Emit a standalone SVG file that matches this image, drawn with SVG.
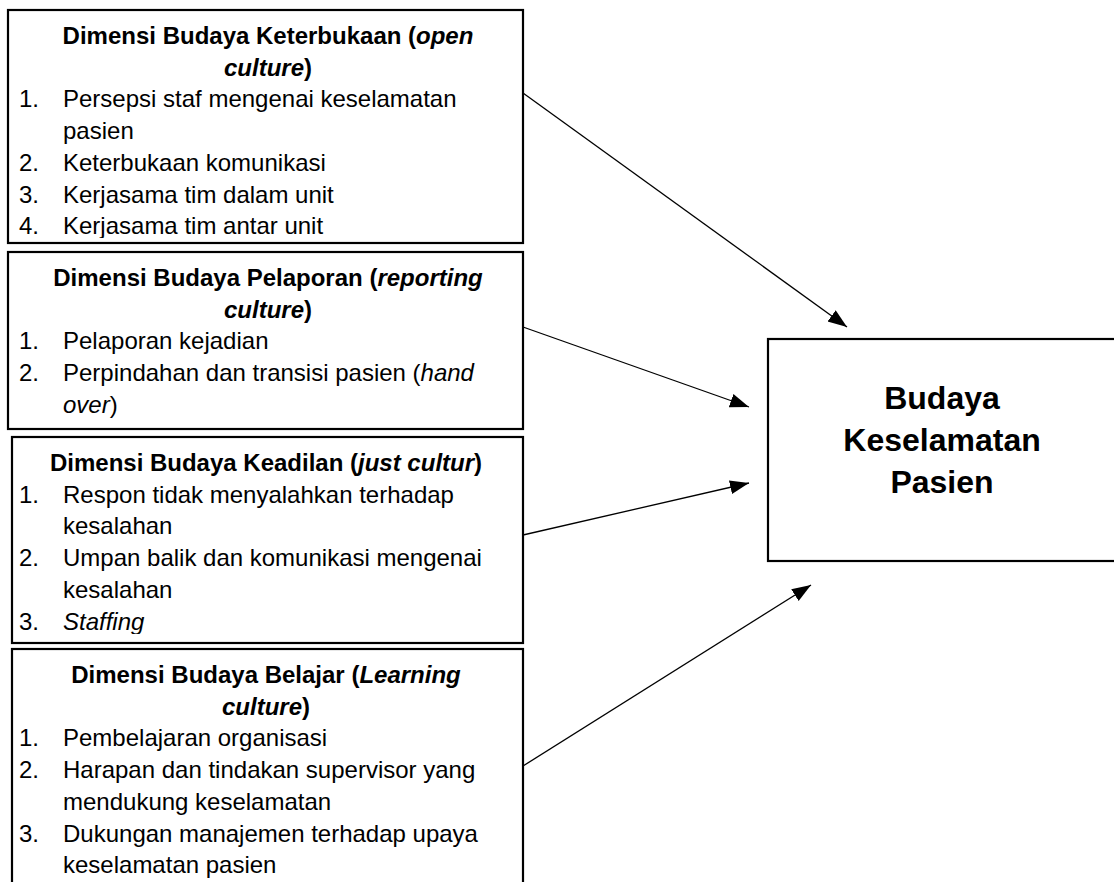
<svg xmlns="http://www.w3.org/2000/svg" width="1114" height="882" viewBox="0 0 1114 882">
<style>
text{font-family:"Liberation Sans",Arial,sans-serif;font-size:24px;fill:#000}
.t{font-weight:bold;text-anchor:middle}
.c{font-weight:bold;font-size:32px;text-anchor:middle}
.box{fill:#fff;stroke:#000;stroke-width:2.2}
.cn{stroke:#000;stroke-width:1.3;fill:none;marker-end:url(#ah)}
</style>
<defs>
<marker id="ah" markerUnits="userSpaceOnUse" markerWidth="22" markerHeight="16" refX="19" refY="7" orient="auto"><path d="M0,0 L19,7 L0,14 z" fill="#000"/></marker>
<clipPath id="c1"><rect x="8" y="10" width="515" height="228"/></clipPath>
<clipPath id="c3"><rect x="12" y="437" width="511" height="197"/></clipPath>
</defs>
<g id="n1">
<rect class="box" x="8" y="10" width="515" height="233"/>
<g clip-path="url(#c1)">
<text class="t" x="268" y="44">Dimensi Budaya Keterbukaan (<tspan font-style="italic">open</tspan></text>
<text class="t" x="268" y="75.7"><tspan font-style="italic">culture</tspan>)</text>
<text x="19" y="107.4">1.</text><text x="63" y="107.4">Persepsi staf mengenai keselamatan</text>
<text x="63" y="139.1">pasien</text>
<text x="19" y="170.8">2.</text><text x="63" y="170.8">Keterbukaan komunikasi</text>
<text x="19" y="202.5">3.</text><text x="63" y="202.5">Kerjasama tim dalam unit</text>
<text x="19" y="234.2">4.</text><text x="63" y="234.2">Kerjasama tim antar unit</text>
</g>
</g>
<g id="n2">
<rect class="box" x="8" y="252" width="515" height="177"/>
<text class="t" x="268" y="286">Dimensi Budaya Pelaporan (<tspan font-style="italic">reporting</tspan></text>
<text class="t" x="268" y="317.7"><tspan font-style="italic">culture</tspan>)</text>
<text x="19" y="349.4">1.</text><text x="63" y="349.4">Pelaporan kejadian</text>
<text x="19" y="381.1">2.</text><text x="63" y="381.1">Perpindahan dan transisi pasien (<tspan font-style="italic">hand</tspan></text>
<text x="63" y="412.8"><tspan font-style="italic">over</tspan>)</text>
</g>
<g id="n3">
<rect class="box" x="12" y="437" width="511" height="206"/>
<g clip-path="url(#c3)">
<text class="t" x="266" y="471">Dimensi Budaya Keadilan (<tspan font-style="italic">just cultur</tspan>)</text>
<text x="19" y="502.7">1.</text><text x="63" y="502.7">Respon tidak menyalahkan terhadap</text>
<text x="63" y="534.4">kesalahan</text>
<text x="19" y="566.1">2.</text><text x="63" y="566.1">Umpan balik dan komunikasi mengenai</text>
<text x="63" y="597.8">kesalahan</text>
<text x="19" y="629.5">3.</text><text x="63" y="629.5" font-style="italic">Staffing</text>
</g>
</g>
<g id="n4">
<rect class="box" x="12" y="649" width="511" height="250"/>
<text class="t" x="266" y="683">Dimensi Budaya Belajar (<tspan font-style="italic">Learning</tspan></text>
<text class="t" x="266" y="714.7"><tspan font-style="italic">culture</tspan>)</text>
<text x="19" y="746.4">1.</text><text x="63" y="746.4">Pembelajaran organisasi</text>
<text x="19" y="778.1">2.</text><text x="63" y="778.1">Harapan dan tindakan supervisor yang</text>
<text x="63" y="809.8">mendukung keselamatan</text>
<text x="19" y="841.5">3.</text><text x="63" y="841.5">Dukungan manajemen terhadap upaya</text>
<text x="63" y="873.2">keselamatan pasien</text>
</g>
<g id="n5">
<rect class="box" x="768" y="339" width="350" height="222"/>
<text class="c" x="942" y="409">Budaya</text>
<text class="c" x="942" y="451">Keselamatan</text>
<text class="c" x="942" y="493">Pasien</text>
</g>
<g id="connectors">
<line class="cn" x1="523" y1="93" x2="847" y2="327"/>
<line class="cn" x1="523" y1="327" x2="749" y2="407"/>
<line class="cn" x1="523" y1="535" x2="749" y2="483"/>
<line class="cn" x1="523" y1="766" x2="811" y2="585"/>
</g>
</svg>
